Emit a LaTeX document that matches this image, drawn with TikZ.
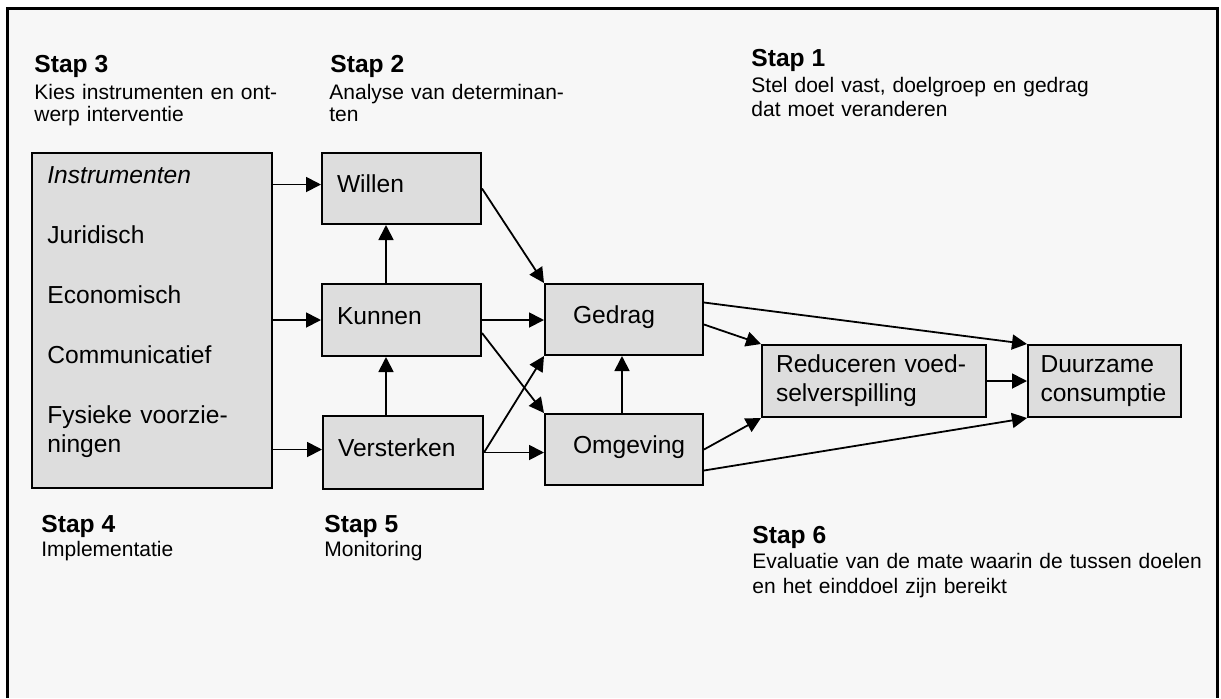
\documentclass[tikz,border=0pt]{standalone}
\usepackage{fontspec}
\setmainfont{Liberation Sans}
\usepackage{tikz}
\usetikzlibrary{arrows.meta,calc}
\definecolor{boxgray}{HTML}{DDDDDD}
\definecolor{bggray}{HTML}{F7F7F7}
\newcommand{\boxfont}{\fontsize{12.3}{14.5}\selectfont}
\newcommand{\stapfont}{\fontsize{12.3}{14}\selectfont\bfseries}
\newcommand{\descfont}{\fontsize{10.5}{11}\selectfont}

\begin{document}
\begin{tikzpicture}[x=0.5pt,y=-0.5pt,
  box/.style={draw,line width=1pt,fill=boxgray,font=\boxfont,align=left,inner xsep=7.5pt,inner ysep=0pt,minimum height=35.5pt},
  oneline/.style={text height=9pt,text depth=5pt},
  indent/.style={execute at begin node={\hspace*{6.5pt}}},
  stap/.style={anchor=base west,inner sep=0pt,font=\stapfont},
  desc/.style={anchor=base west,inner sep=0pt,font=\descfont,align=left,text width=260pt},
  arr/.style={-{Triangle[length=7.5pt,width=7.5pt]},line width=0.9pt}]
\useasboundingbox (0,0) rectangle (1221,698);
% frame, open at the bottom
\fill[bggray] (7,8.5) rectangle (1217,698);
\draw[line width=1.5pt] (7,698) -- (7,8.5) -- (1217,8.5) -- (1217,698);

% steps
\node[stap] (s3) at (34,72) {Stap 3};
\node[desc] (s3txt) at (34,99) {Kies instrumenten en ont-\\werp interventie};
\node[stap] (s2) at (330,72) {Stap 2};
\node[desc] (s2txt) at (329,99) {Analyse van determinan-\\ten};
\node[stap] (s1) at (751,66) {Stap 1};
\node[desc,font=\fontsize{10.5}{12}\selectfont] (s1txt) at (751,92) {Stel doel vast, doelgroep en gedrag\\dat moet veranderen};
\node[stap] (s4) at (41,532) {Stap 4};
\node[desc] (s4txt) at (41,556) {Implementatie};
\node[stap] (s5) at (324,532) {Stap 5};
\node[desc] (s5txt) at (324,556) {Monitoring};
\node[stap] (s6) at (752,543) {Stap 6};
\node[desc,font=\fontsize{10.5}{12.5}\selectfont] (s6txt) at (752,568) {Evaluatie van de mate waarin de tussen doelen\\en het einddoel zijn bereikt};

% boxes
\node[draw,line width=1pt,fill=boxgray,minimum width=120pt,minimum height=167.5pt,inner sep=0pt] (instr) at (152,320.5) {};
\node[anchor=base west,inner sep=0pt,font=\boxfont,align=left,text width=110pt] (instrlist) at (47,183)
  {\textit{Instrumenten}\\[15.5pt]Juridisch\\[15.5pt]Economisch\\[15.5pt]Communicatief\\[15.5pt]Fysieke voorzie-\\ningen};
\node[box,oneline,text width=64.5pt] (willen) at (401.5,188.5) {Willen};
\node[box,oneline,text width=64.5pt,minimum height=36pt] (kunnen) at (401.5,320) {Kunnen};
\node[box,oneline,text width=65pt,minimum height=36.5pt] (versterken) at (403,452.5) {Versterken};
\node[box,oneline,indent,text width=64pt] (gedrag) at (624,319.5) {Gedrag};
\node[box,oneline,indent,text width=64pt] (omgeving) at (624,449.5) {Omgeving};
\node[box,inner xsep=7pt,text width=98pt,minimum height=36pt] (reduceren) at (874,381) {Reduceren voed-\\selverspilling};
\node[box,inner xsep=6.25pt,text width=64pt,minimum height=36pt] (duurzame) at (1104.5,381) {Duurzame\\consumptie};

% connectors
\draw[arr] ([yshift=2pt]instr.east |- willen.west) -- ([yshift=2pt]willen.west);
\draw[arr] (instr.east |- kunnen.west) -- (kunnen.west);
\draw[arr] ([yshift=1.5pt]instr.east |- versterken.west) -- ([yshift=1.5pt]versterken.west);
\draw[arr] ([xshift=-7.75pt]kunnen.north) -- ([xshift=-7.75pt]willen.south);
\draw[arr] ([xshift=-7.75pt]kunnen.south |- versterken.north) -- ([xshift=-7.75pt]kunnen.south);
\draw[arr] (willen.east) -- (gedrag.north west);
\draw[arr] (kunnen.east) -- (kunnen.east -| gedrag.west);
\draw[arr] ([yshift=-6.5pt]kunnen.east) -- (omgeving.north west);
\draw[arr] (versterken.east) -- (gedrag.south west);
\draw[arr] (versterken.east) -- (versterken.east -| omgeving.west);
\draw[arr] ([xshift=-1pt]omgeving.north) -- ([xshift=-1pt]gedrag.south);
\draw[arr] ([yshift=8.5pt]gedrag.east) -- (duurzame.north west);
\draw[arr] ([yshift=-2.5pt]gedrag.east) -- (reduceren.north west);
\draw[arr] (omgeving.east) -- (reduceren.south west);
\draw[arr] ([yshift=-10.5pt]omgeving.east) -- (duurzame.south west);
\draw[arr] (reduceren.east) -- (reduceren.east -| duurzame.west);
\end{tikzpicture}
\end{document}
